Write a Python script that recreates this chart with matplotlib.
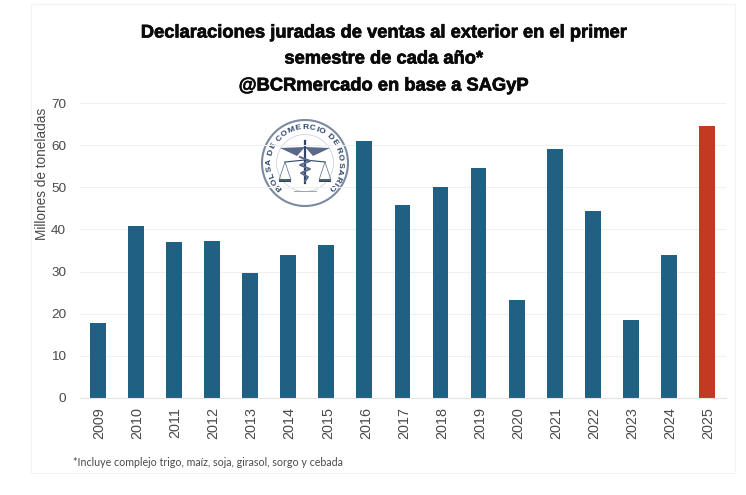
import numpy as np
import matplotlib
matplotlib.use("Agg")
import matplotlib.pyplot as plt
from matplotlib.patches import Circle, Rectangle, Polygon
from matplotlib.textpath import TextPath
from matplotlib.font_manager import FontProperties
from matplotlib.transforms import ScaledTranslation
import matplotlib.patheffects as pe

plt.rcParams["font.family"] = ["Liberation Sans", "DejaVu Sans"]

years = [2009, 2010, 2011, 2012, 2013, 2014, 2015, 2016, 2017, 2018, 2019, 2020, 2021, 2022, 2023, 2024, 2025]
values = [17.7, 40.8, 37.0, 37.2, 29.7, 33.9, 36.3, 61.1, 45.8, 50.0, 54.5, 23.2, 59.0, 44.4, 18.5, 33.9, 64.6]
title_lines = ["Declaraciones juradas de ventas al exterior en el primer",
               "semestre de cada año*", "@BCRmercado en base a SAGyP"]
ylabel = "Millones de toneladas"
footnote = "*Incluye complejo trigo, maíz, soja, girasol, sorgo y cebada"
logo_text = "BOLSA DE COMERCIO DE ROSARIO"

W, H = 746, 495
BLUE, RED, NAVY = "#1f6083", "#c23a22", "#2f4468"
GREY = "#4a4a4a"
fig = plt.figure(figsize=(W/100, H/100), dpi=100)

ov = fig.add_axes([0, 0, 1, 1], zorder=0)
ov.set_xlim(0, W); ov.set_ylim(H, 0); ov.axis("off")
ov.add_patch(Rectangle((31, 4), 704, 469, fill=False, ec="#f3f3f3", lw=0.8))

ax = fig.add_axes([80/W, 1-398/H, 646/W, 295/H], zorder=1)
ax.patch.set_alpha(0)
colors = [BLUE]*16 + [RED]
ax.bar(years, values, width=0.415, color=colors)
ax.set_xlim(2008.53, 2025.5)
ax.set_ylim(0, 70)
ax.set_yticks(range(0, 71, 10))
ax.set_xticks(years)
ax.set_xticklabels(years, rotation=90, fontsize=10.4, color=GREY)
ax.tick_params(axis="both", length=0)
ax.tick_params(axis="x", pad=6.5)
ax.tick_params(axis="y", pad=10, labelsize=9.7, labelcolor=GREY)
shift = ScaledTranslation(1.5/100, 0, fig.dpi_scale_trans)
for t in ax.get_xticklabels():
    t.set_transform(t.get_transform() + shift)
ax.grid(axis="y", color="#f0f0f0", lw=0.8)
ax.set_axisbelow(True)
for s in ["top", "right", "left"]:
    ax.spines[s].set_visible(False)
ax.spines["bottom"].set_color("#e4e4e4")
ov.text(42, 174, ylabel, rotation=90, ha="center", va="center", fontsize=9.85, color=GREY)

for txt, y in zip(title_lines, [33, 59, 86]):
    ov.text(384, y, txt, ha="center", va="center", fontsize=13.2, fontweight="bold",
            color="#0a0a0a", path_effects=[pe.withStroke(linewidth=0.5, foreground="#0a0a0a")])
ov.text(73, 462, footnote, ha="left", va="center", fontsize=7.65, color="#4a4a4a", family="Lato")

# logo
cx, cy, R = 305, 163, 43
ov.add_patch(Circle((cx, cy), R, fill=False, ec="#7b8aa0", lw=1.5))
ov.add_patch(Circle((cx, cy), R-14.5, fill=False, ec="#c4ccd6", lw=0.5))
fp = FontProperties(family="Liberation Sans", weight="bold", size=6.1)
adv = np.array([TextPath((0, 0), c if c != " " else "I", prop=fp).get_extents().width + 0.8 for c in logo_text])
adv = adv / adv.sum()
mids = np.cumsum(adv) - adv/2
angs = 228 - mids * (228 + 48)
for ch, a in zip(logo_text, angs):
    r = np.radians(a)
    ov.text(cx + (R-7.5)*np.cos(r), cy - (R-7.5)*np.sin(r), ch, rotation=a-90,
            rotation_mode="anchor", ha="center", va="center", color=NAVY, fontproperties=fp)
ov.plot([cx, cx], [cy-22, cy+20], color=NAVY, lw=1.6)
for side in (-1, 1):
    ov.add_patch(Polygon([(cx, cy-16), (cx+side*25, cy-15), (cx+side*8, cy-7)], color="#59698a", lw=0))
    ox = cx + side*20
    ov.plot([cx, ox], [cy-3, cy-1], color=NAVY, lw=0.8)
    ov.plot([ox, ox-6, ox+6, ox], [cy-1, cy+17, cy+17, cy-1], color="#6f7f98", lw=0.6)
    ov.add_patch(Rectangle((ox-6, cy+16), 12, 2.5, color=NAVY, lw=0))
xs = np.array([-5, 5, -5, 5, -4, 3, 0])
ys = np.array([-6, -2, 2, 6, 10, 14, 18])
ov.plot(cx+xs, cy+ys, color="#59698a", lw=1.4)
ov.plot([cx-11, cx+11], [cy+28, cy+28], color="#9aa5b8", lw=0.7)

fig.savefig("out.png", dpi=100)
